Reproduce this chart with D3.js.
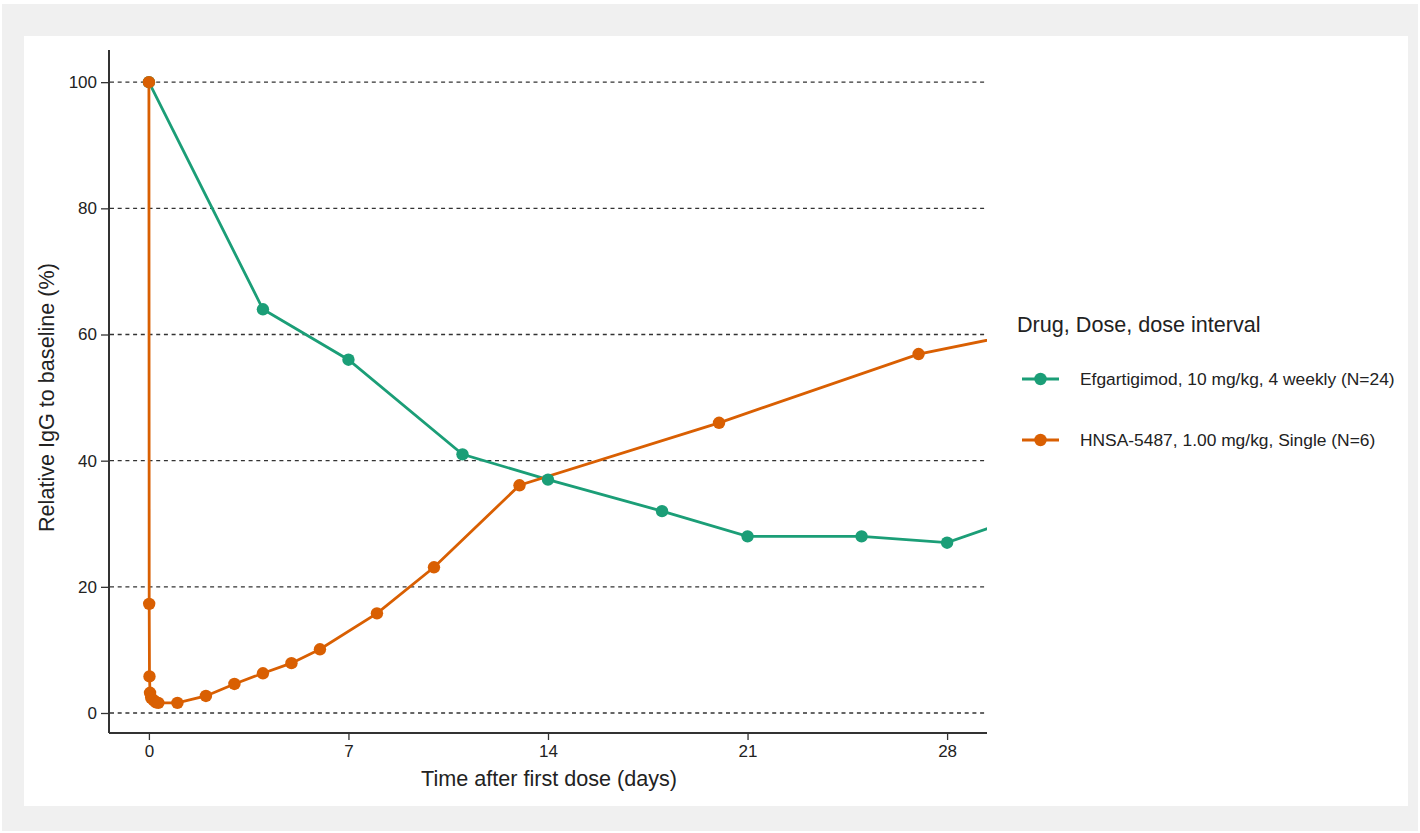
<!DOCTYPE html>
<html>
<head>
<meta charset="utf-8">
<script src="https://cdn.jsdelivr.net/npm/d3@7"></script>
<style>
  body { margin: 0; background: #fff; font-family: "Liberation Sans", Arial, sans-serif; }
</style>
</head>
<body>
<div id="chart"></div>
<script>
// data
const efgDays = [0, 4, 7, 11, 14, 18, 21, 25, 28, 35];
const efgIgG  = [100, 64, 56, 41, 37, 32, 28, 28, 27, 38];
const hnsaDays = [0, 0.01, 0.02, 0.04, 0.08, 0.17, 0.25, 0.33, 1, 2, 3, 4, 5, 6, 8, 10, 13, 20, 27, 34];
const hnsaIgG  = [100, 17.3, 5.8, 3.2, 2.4, 2.0, 1.7, 1.6, 1.6, 2.7, 4.6, 6.3, 7.9, 10.1, 15.8, 23.1, 36.1, 46, 56.9, 63.3];
const seriesNames = ["Efgartigimod, 10 mg/kg, 4 weekly (N=24)", "HNSA-5487, 1.00 mg/kg, Single (N=6)"];
const seriesColors = ["#1b9e77", "#d95f02"];
const xTicks = [0, 7, 14, 21, 28];
const yTicks = [0, 20, 40, 60, 80, 100];

const width = 1420, height = 833;

const svg = d3.select("#chart").append("svg")
    .attr("width", width)
    .attr("height", height);

// grey frame + white panel
svg.append("rect").attr("x", 2).attr("y", 4).attr("width", 1416).attr("height", 827).attr("fill", "#f0f0f0");
svg.append("rect").attr("x", 24).attr("y", 36).attr("width", 1384).attr("height", 770).attr("fill", "#fff");

const x = d3.scaleLinear().domain([-1.4, 29.4]).range([109, 987]);
const y = d3.scaleLinear().domain([-3.17, 105.1]).range([733, 50]);

svg.append("clipPath").attr("id", "plotclip")
  .append("rect").attr("x", 109).attr("y", 40).attr("width", 987 - 109).attr("height", 733 - 40);

// dashed gridlines
svg.append("g")
  .selectAll("line")
  .data(yTicks)
  .enter().append("line")
    .attr("x1", 110).attr("x2", 986)
    .attr("y1", d => y(d)).attr("y2", d => y(d))
    .style("stroke", "#333")
    .style("stroke-width", 1.3)
    .style("stroke-dasharray", "4,3.7");

// axes
const yAxis = svg.append("g")
    .attr("transform", "translate(109,0)")
    .call(d3.axisLeft(y).tickValues(yTicks).tickSize(8).tickPadding(4));
const xAxis = svg.append("g")
    .attr("transform", "translate(0,733)")
    .call(d3.axisBottom(x).tickValues(xTicks).tickSize(7).tickPadding(5));

[xAxis, yAxis].forEach(a => {
    a.select(".domain").style("stroke", "#333").style("stroke-width", 2);
    a.selectAll(".tick line").style("stroke", "#333").style("stroke-width", 1.3);
    a.selectAll(".tick text")
        .style("font-family", "'Liberation Sans', Arial, sans-serif")
        .style("font-size", "17px")
        .style("fill", "#222");
});
// the axes in the picture stop where the data area does
yAxis.select(".domain").attr("d", "M0," + y(-3.17) + "V" + y(105.1));
xAxis.select(".domain").attr("d", "M109,0H987");

// axis titles
svg.append("text")
    .attr("x", 549).attr("y", 786)
    .attr("text-anchor", "middle")
    .style("font-size", "21.6px").style("fill", "#222")
    .text("Time after first dose (days)");
svg.append("text")
    .attr("transform", "translate(54," + y(50) + ") rotate(-90)")
    .attr("text-anchor", "middle")
    .style("font-size", "21.6px").style("fill", "#222")
    .text("Relative IgG to baseline (%)");

// lines + points
const series = [
    { name: seriesNames[0], color: seriesColors[0], values: efgDays.map((d, i) => ({ day: d, val: efgIgG[i] })) },
    { name: seriesNames[1], color: seriesColors[1], values: hnsaDays.map((d, i) => ({ day: d, val: hnsaIgG[i] })) }
];

const line = d3.line().x(d => x(d.day)).y(d => y(d.val));

const plot = svg.append("g").attr("clip-path", "url(#plotclip)");

series.forEach(s => {
    plot.append("path")
        .datum(s.values)
        .attr("d", line)
        .style("fill", "none")
        .style("stroke", s.color)
        .style("stroke-width", 2.8);
});
series.forEach(s => {
    plot.append("g")
        .selectAll("circle")
        .data(s.values)
        .enter().append("circle")
        .attr("cx", d => x(d.day))
        .attr("cy", d => y(d.val))
        .attr("r", 6.2)
        .style("fill", s.color);
});

// legend
const legend = svg.append("g").attr("class", "legend");
legend.append("text")
    .attr("x", 1017).attr("y", 332)
    .style("font-size", "21.6px").style("fill", "#222")
    .text("Drug, Dose, dose interval");

const items = legend.selectAll("g.item")
    .data(series)
    .enter().append("g")
    .attr("class", "item")
    .attr("transform", (d, i) => "translate(0," + (379 + i * 61) + ")");
items.append("line")
    .attr("x1", 1022).attr("x2", 1059)
    .style("stroke", d => d.color)
    .style("stroke-width", 2.8);
items.append("circle")
    .attr("cx", 1040.5).attr("r", 6.2)
    .style("fill", d => d.color);
items.append("text")
    .attr("x", 1080).attr("y", 6)
    .style("font-size", "17.4px").style("fill", "#222")
    .text(d => d.name);
</script>
</body>
</html>
